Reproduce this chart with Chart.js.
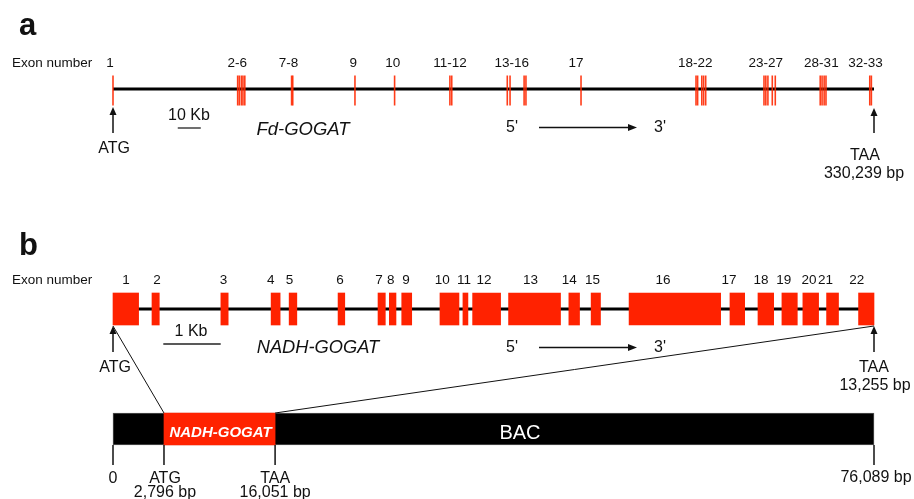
<!DOCTYPE html>
<html>
<head>
<meta charset="utf-8">
<script src="https://cdn.jsdelivr.net/npm/chart.js@4.4.0/dist/chart.umd.min.js"></script>
<style>
  html, body { margin: 0; padding: 0; background: #fff; }
  #wrap { width: 914px; height: 499px; }
</style>
</head>
<body>
<div id="wrap"><canvas id="geneChart" width="914" height="499"></canvas></div>
<script>
// panel a: Fd-GOGAT, positions in kb from ATG
const geneLenA = 330.239;
const exonsA = [0, 54.1, 54.8, 55.7, 56.4, 57.2, 77.5, 78.0, 105.0, 122.2, 146.2, 147.0,
    171.1, 172.3, 178.4, 179.2, 203.1, 253.0, 253.7, 255.5, 256.3, 257.2,
    282.5, 283.3, 284.2, 286.1, 287.4, 306.9, 307.7, 308.6, 309.4, 328.4, 329.1];
const exonLabelsA = ['1', '2-6', '7-8', '9', '10', '11-12', '13-16', '17', '18-22', '23-27', '28-31', '32-33'];
const exonLabelPosA = [-1.3, 53.9, 76.2, 104.3, 121.4, 146.2, 173.0, 200.9, 252.7, 283.3, 307.4, 326.6];

// panel b: NADH-GOGAT, positions in bp from ATG
const geneLenB = 13255;
const exonStartB = [0, 679, 1879, 2754, 3068, 3920, 4616, 4813, 5029, 5695, 6095,
    6264, 6890, 7940, 8328, 8989, 10746, 11234, 11651, 12016, 12429, 12986];
const exonEndB = [446, 806, 2006, 2911, 3202, 4037, 4743, 4929, 5203, 6026, 6182,
    6751, 7795, 8126, 8491, 10584, 11002, 11507, 11919, 12290, 12637, 13255];
const exonLabelPosB = [226, 766, 1924, 2749, 3073, 3955, 4634, 4837, 5103, 5735, 6113,
    6461, 7273, 7945, 8352, 9580, 10729, 11286, 11681, 12121, 12411, 12956];

// BAC (drawn schematic, not to scale): percent of bar length
const bacLabels = ['0', '2,796 bp', '16,051 bp', '76,089 bp'];
const bacPos = [0, 6.7, 21.3, 100];

const RED = '#ff2200';
const FONT = '"Liberation Sans", Arial, Helvetica, sans-serif';

const rowA = 89, rowB = 309, rowBac = 429;

const annotations = {
    id: 'annotations',
    afterDatasetsDraw(chart) {
        const c = chart.ctx;
        const xa = chart.scales.xa, xb = chart.scales.xb, xc = chart.scales.xc;

        function text(s, x, y, font, align, color) {
            c.save();
            c.font = font;
            c.fillStyle = color || '#111';
            c.textAlign = align || 'center';
            c.textBaseline = 'alphabetic';
            c.fillText(s, x, y);
            c.restore();
        }
        function line(x1, y1, x2, y2, w) {
            c.save();
            c.strokeStyle = '#111';
            c.lineWidth = w || 1;
            c.beginPath();
            c.moveTo(x1, y1);
            c.lineTo(x2, y2);
            c.stroke();
            c.restore();
        }
        function arrowUp(x, yBottom, yTip) {
            line(x, yBottom, x, yTip + 6, 1.5);
            c.save();
            c.fillStyle = '#111';
            c.beginPath();
            c.moveTo(x, yTip);
            c.lineTo(x - 3.5, yTip + 8);
            c.lineTo(x + 3.5, yTip + 8);
            c.closePath();
            c.fill();
            c.restore();
        }
        function arrowRight(x1, x2, y) {
            line(x1, y, x2 - 6, y, 1.3);
            c.save();
            c.fillStyle = '#111';
            c.beginPath();
            c.moveTo(x2, y);
            c.lineTo(x2 - 9, y - 3.5);
            c.lineTo(x2 - 9, y + 3.5);
            c.closePath();
            c.fill();
            c.restore();
        }

        const small = '13.5px ' + FONT;
        const mid = '16px ' + FONT;

        // panel a
        text('a', 19, 35, 'bold 31px ' + FONT, 'left');
        text('Exon number', 12, 67, small, 'left');
        exonLabelsA.forEach((s, i) => text(s, xa.getPixelForValue(exonLabelPosA[i]), 67, small));
        arrowUp(xa.getPixelForValue(0), 133, 107);
        text('ATG', xa.getPixelForValue(0) + 1, 153, mid);
        text('10 Kb', 189, 120, mid);
        text('Fd-GOGAT', 303, 135, 'italic 18.5px ' + FONT);
        text("5'", 512, 132, mid);
        arrowRight(539, 637, 127.5);
        text("3'", 660, 132, mid);
        arrowUp(xa.getPixelForValue(geneLenA), 133, 108);
        text('TAA', 865, 160, mid);
        text('330,239 bp', 864, 178, mid);

        // panel b
        text('b', 19, 255, 'bold 31px ' + FONT, 'left');
        text('Exon number', 12, 284, small, 'left');
        exonLabelPosB.forEach((p, i) => text(String(i + 1), xb.getPixelForValue(p), 284, small));
        arrowUp(xb.getPixelForValue(0), 352, 326);
        text('ATG', 115, 372, mid);
        text('1 Kb', 191, 336, mid);
        text('NADH-GOGAT', 318, 353, 'italic 18.3px ' + FONT);
        text("5'", 512, 352, mid);
        arrowRight(539, 637, 347.5);
        text("3'", 660, 352, mid);
        arrowUp(xb.getPixelForValue(geneLenB), 352, 326);
        text('TAA', 874, 372, mid);
        text('13,255 bp', 875, 390, mid);

        // zoom lines from gene b to BAC
        line(xb.getPixelForValue(0), 326, xc.getPixelForValue(bacPos[1]), 413, 1);
        line(xb.getPixelForValue(geneLenB), 326, xc.getPixelForValue(bacPos[2]), 413, 1);

        // BAC
        const atgX = xc.getPixelForValue(bacPos[1]), taaX = xc.getPixelForValue(bacPos[2]);
        text('NADH-GOGAT', (atgX + taaX) / 2 + 1, 437, 'bold italic 15px ' + FONT, 'center', '#fff');
        text('BAC', 520, 439, '20px ' + FONT, 'center', '#fff');
        bacPos.forEach(p => line(xc.getPixelForValue(p), 445, xc.getPixelForValue(p), 465, 1.5));
        text('0', xc.getPixelForValue(0), 483, mid);
        text('ATG', atgX + 1, 483, mid);
        text(bacLabels[1], atgX + 1, 497, mid);
        text('TAA', taaX, 483, mid);
        text(bacLabels[2], taaX, 497, mid);
        text(bacLabels[3], xc.getPixelForValue(100) + 2, 482, mid);
    }
};

document.addEventListener('DOMContentLoaded', () => {
    const ctx = document.getElementById('geneChart').getContext('2d');
    const geneChart = new Chart(ctx, {
        type: 'scatter',
        data: {
            datasets: [
                {
                    type: 'scatter',
                    label: 'Fd-GOGAT exons',
                    xAxisID: 'xa',
                    yAxisID: 'y',
                    data: exonsA.map(v => ({ x: v, y: rowA + 1.5 })),
                    pointStyle: 'line',
                    rotation: 90,
                    radius: 15,
                    borderWidth: 1.6,
                    borderColor: 'rgba(255, 40, 0, 0.9)',
                    backgroundColor: 'rgba(255, 40, 0, 0.9)',
                    clip: false
                },
                {
                    type: 'bar',
                    label: 'NADH-GOGAT exons',
                    indexAxis: 'y',
                    grouped: false,
                    xAxisID: 'xb',
                    yAxisID: 'y',
                    data: exonStartB.map((s, i) => ({ x: [s, exonEndB[i]], y: rowB })),
                    backgroundColor: RED,
                    borderWidth: 0,
                    barThickness: 32,
                    clip: false
                },
                {
                    type: 'bar',
                    label: 'BAC insert',
                    indexAxis: 'y',
                    grouped: false,
                    xAxisID: 'xc',
                    yAxisID: 'y',
                    data: [{ x: [bacPos[1], bacPos[2]], y: rowBac }],
                    backgroundColor: RED,
                    borderWidth: 0,
                    barThickness: 32,
                    clip: false
                },
                {
                    type: 'bar',
                    label: 'BAC',
                    indexAxis: 'y',
                    grouped: false,
                    xAxisID: 'xc',
                    yAxisID: 'y',
                    data: [{ x: [bacPos[0], bacPos[3]], y: rowBac }],
                    backgroundColor: '#000',
                    borderColor: '#555',
                    borderWidth: 1,
                    borderSkipped: false,
                    barThickness: 32,
                    clip: false
                },
                {
                    type: 'line',
                    label: 'gene a',
                    xAxisID: 'xa',
                    yAxisID: 'y',
                    data: [{ x: 0, y: rowA }, { x: geneLenA, y: rowA }],
                    borderColor: '#000',
                    borderWidth: 3,
                    pointRadius: 0,
                    clip: false
                },
                {
                    type: 'line',
                    label: 'gene b',
                    xAxisID: 'xb',
                    yAxisID: 'y',
                    data: [{ x: 0, y: rowB }, { x: geneLenB, y: rowB }],
                    borderColor: '#000',
                    borderWidth: 3,
                    pointRadius: 0,
                    clip: false
                },
                {
                    type: 'line',
                    label: '10 Kb',
                    xAxisID: 'xa',
                    yAxisID: 'y',
                    data: [{ x: 28.1, y: 128 }, { x: 38.1, y: 128 }],
                    borderColor: '#222',
                    borderWidth: 1.3,
                    pointRadius: 0
                },
                {
                    type: 'line',
                    label: '1 Kb',
                    xAxisID: 'xb',
                    yAxisID: 'y',
                    data: [{ x: 876, y: 344 }, { x: 1876, y: 344 }],
                    borderColor: '#222',
                    borderWidth: 1.3,
                    pointRadius: 0
                }
            ]
        },
        options: {
            responsive: false,
            animation: false,
            devicePixelRatio: 1,
            layout: { autoPadding: false, padding: { left: 113, right: 40, top: 0, bottom: 0 } },
            plugins: {
                legend: { display: false },
                tooltip: { enabled: false }
            },
            events: [],
            scales: {
                xa: { type: 'linear', axis: 'x', display: false, offset: false, min: 0, max: geneLenA },
                xb: { type: 'linear', axis: 'x', display: false, offset: false, min: 0, max: geneLenB },
                xc: { type: 'linear', axis: 'x', display: false, offset: false, min: 0, max: 100 },
                y: { type: 'linear', axis: 'y', display: false, offset: false, min: 0, max: 499, reverse: true }
            }
        },
        plugins: [annotations]
    });
});
</script>
</body>
</html>
